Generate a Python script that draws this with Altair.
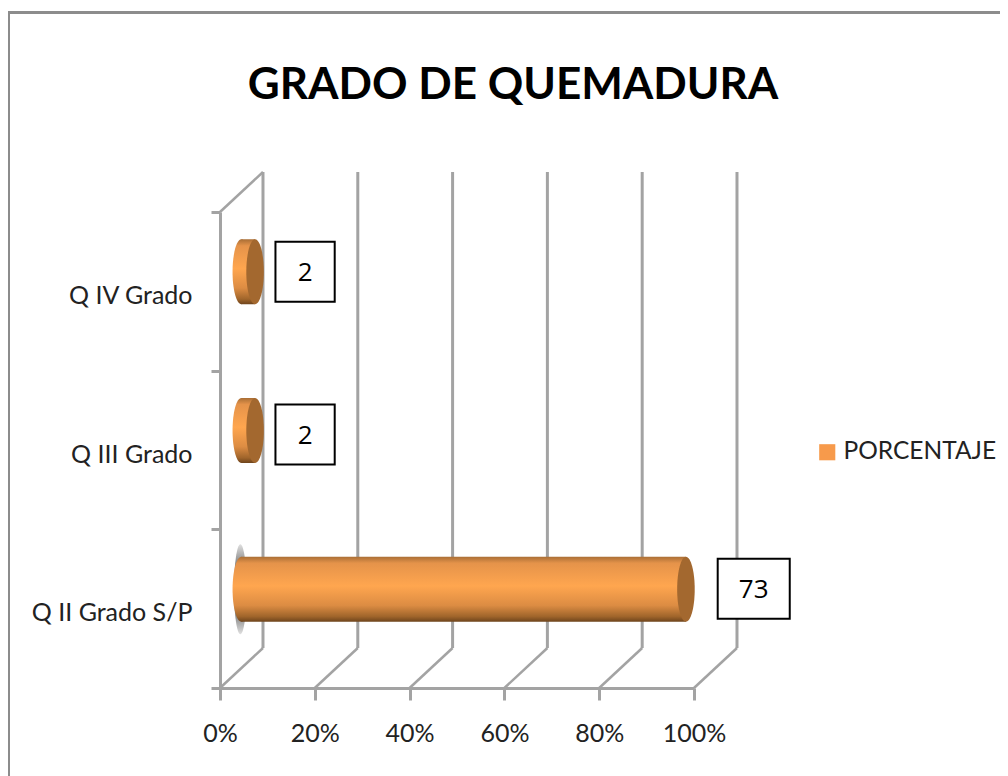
import altair as alt
import pandas as pd

categories = ["Q IV Grado", "Q III Grado", "Q II Grado S/P"]
labels = [2, 2, 73]
bar_start = [4.5, 4.5, 4.5]
bar_end = [7.4, 7.4, 98.3]
box_start = [11.7, 11.7, 105.0]
box_end = [24.2, 24.2, 120.2]
box_shift = [-19.5, -15.5, -20.0]
ticks = [0, 20, 40, 60, 80, 100]
depth = 9.07
series = "PORCENTAJE"

FONT = "Lato"
GRID = "#A3A3A3"
CAP = "#A3682F"

df = pd.DataFrame({"cat": categories, "label": labels, "start": bar_start, "end": bar_end,
                   "bs": box_start, "be": box_end, "s": box_shift, "series": series})
df["mid"] = (df.bs + df.be) / 2
gdf = pd.DataFrame({"v": ticks, "v2": [t + depth for t in ticks]})

xs = alt.Scale(domain=[0, 100], nice=False, zero=False)
ys = alt.Scale(domain=categories, paddingInner=0, paddingOuter=0)

body = alt.LinearGradient(gradient="linear", x1=0, x2=0, y1=0, y2=1, stops=[
    alt.GradientStop(color="#A96E35", offset=0),
    alt.GradientStop(color="#E5934A", offset=0.1),
    alt.GradientStop(color="#FFA64F", offset=0.45),
    alt.GradientStop(color="#DC8C43", offset=0.75),
    alt.GradientStop(color="#A0652B", offset=0.92),
    alt.GradientStop(color="#6E441C", offset=1)])
shadow = alt.RadialGradient(gradient="radial", stops=[
    alt.GradientStop(color="#666666", offset=0),
    alt.GradientStop(color="#8A8A8A", offset=0.6),
    alt.GradientStop(color="#E0E0E0", offset=1)])

ELLIPSE = "M0,-1 A0.27,1 0 1,1 0,1 A0.27,1 0 1,1 0,-1 Z"
NARROW_SHADOW = "M0,-1 A0.14,1 0 1,1 0,1 A0.14,1 0 1,1 0,-1 Z"

frame = alt.Chart(pd.DataFrame({"a": [0]})).mark_rect(fill=None, stroke="#8C8C8C", strokeWidth=3).encode(
    x=alt.value(-211.5), x2=alt.value(900), y=alt.value(-199.5), y2=alt.value(700))

base = alt.Chart(gdf)
back = base.mark_rule(color=GRID, strokeWidth=3).encode(
    x=alt.X("v2:Q", scale=xs, title=None), y=alt.value(-40), y2=alt.value(436))
floor = base.mark_rule(color=GRID, strokeWidth=2.5).encode(
    x=alt.X("v:Q", scale=xs, title=None), x2="v2:Q", y=alt.value(476), y2=alt.value(436))
wall = alt.Chart(gdf[gdf.v == 0]).mark_rule(color=GRID, strokeWidth=2.5).encode(
    x=alt.X("v:Q", scale=xs, title=None), x2="v2:Q", y=alt.value(0), y2=alt.value(-40))

axes = alt.Chart(df).mark_point(opacity=0).encode(
    x=alt.X("start:Q", scale=xs, title=None, axis=alt.Axis(
        values=ticks, labelExpr="datum.value + '%'", grid=False, orient="bottom",
        domainColor=GRID, domainWidth=3, tickColor=GRID, tickWidth=3, tickSize=12,
        labelFont=FONT, labelFontSize=25, labelColor="#222222", labelPadding=21, labelFlush=False)),
    y=alt.Y("cat:N", scale=ys, sort=categories, title=None, axis=alt.Axis(
        bandPosition=0, grid=False, domainColor=GRID, domainWidth=3, tickColor=GRID, tickWidth=3,
        tickSize=9, tickBand="extent", labelFont=FONT, labelFontSize=25, labelColor="#222222",
        labelPadding=19, labelOffset=4, labelLimit=400)))

Y = alt.Y("cat:N", scale=ys, sort=categories, title=None)
shade = alt.Chart(df[df.end > 50]).mark_point(
    shape=NARROW_SHADOW, size=8100, filled=True, fill=shadow, opacity=1, yOffset=-19.5, xOffset=-1
).encode(x=alt.X("start:Q", scale=xs), y=Y)
left = alt.Chart(df).mark_point(
    shape=ELLIPSE, size=4225, filled=True, fill=body, opacity=1, yOffset=-19.5
).encode(x=alt.X("start:Q", scale=xs), y=Y)
bars = alt.Chart(df).mark_bar(size=65, fill=body, yOffset=-19.5).encode(
    x=alt.X("start:Q", scale=xs), x2="end:Q", y=Y)
right = alt.Chart(df).mark_point(
    shape=ELLIPSE, size=4225, filled=True, fill=CAP, opacity=1, yOffset=-19.5
).encode(x=alt.X("end:Q", scale=xs), y=Y)

layers = [frame, back, floor, wall, axes, shade, left, bars, right]
for cat, off in zip(categories, box_shift):
    row = df[df.cat == cat]
    layers.append(alt.Chart(row).mark_bar(size=60, fill="white", stroke="black", strokeWidth=2, yOffset=off).encode(
        x=alt.X("bs:Q", scale=xs), x2="be:Q", y=Y))
    layers.append(alt.Chart(row).mark_text(font="Open Sans", fontSize=26, color="black", yOffset=off + 1.5).encode(
        x=alt.X("mid:Q", scale=xs), y=Y, text="label:N"))

legend = alt.Chart(df.head(1)).mark_square(size=0, opacity=1).encode(
    x=alt.X("start:Q", scale=xs), y=Y,
    color=alt.Color("series:N", scale=alt.Scale(range=["#F79A4B"]), legend=alt.Legend(
        orient="none", legendX=595, legendY=228, title=None, symbolType="square", symbolSize=260,
        labelFont=FONT, labelFontSize=24.5, labelColor="#222222", padding=0, labelOffset=4, labelLimit=300)))
layers.append(legend)

chart = alt.layer(*layers).properties(
    width=474, height=476,
    padding={"left": 212, "top": 204, "right": 306, "bottom": 88},
    autosize=alt.AutoSizeParams(type="none"),
    title=alt.TitleParams("GRADO DE QUEMADURA", font=FONT, fontSize=44, fontWeight="bold", color="black",
                          anchor="middle", frame="group", dx=56, offset=-97),
).configure_view(stroke=None).resolve_scale(x="shared", y="shared")

chart.save("out.html", embed_options={"renderer": "svg", "actions": False})
